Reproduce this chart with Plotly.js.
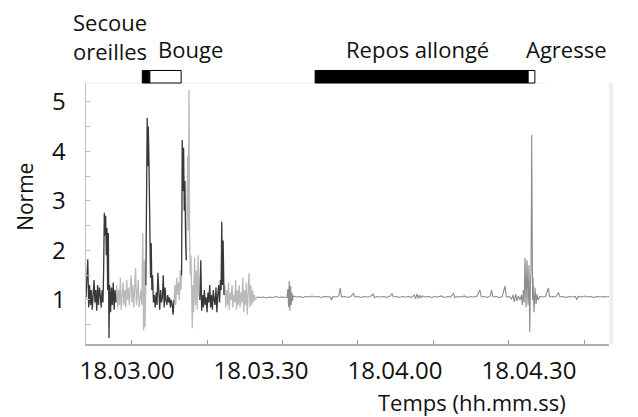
<!DOCTYPE html>
<html>
<head>
<meta charset="utf-8">
<script src="https://cdn.plot.ly/plotly-3.0.1.min.js"></script>
<style>html,body{margin:0;padding:0;background:#fff;}#chart{width:638px;height:417px;}</style>
</head>
<body>
<div id="chart"></div>
<script>
// Time in seconds since 18:00:00
const darkTime = [
  170.8,171.0,171.2,171.4,171.6,171.8,172.0,172.2,172.4,172.6,172.8,173.0,173.2,173.4,173.6,173.8,174.0,174.2,174.4,174.6,174.75,174.9,175.05,175.2,175.35,175.5,175.65,175.8,175.95,176.1,176.3,176.5,176.7,176.9,177.1,177.3,177.5,
  null,
  184.2,184.35,184.5,184.62,184.75,184.88,185.0,185.12,185.25,185.4,185.55,185.7,
  185.9,186.1,186.3,186.5,186.7,186.9,187.1,187.3,187.5,187.7,187.9,188.1,188.3,188.5,188.7,188.9,189.1,189.3,189.5,189.7,189.9,190.1,190.3,190.5,
  null,
  192.2,192.35,192.5,192.65,192.8,192.95,193.1,193.25,
  null,
  196.3,196.5,196.7,196.9,197.1,197.3,197.5,197.7,197.9,198.1,198.3,198.5,198.7,198.9,199.1,199.3,199.5,199.7,199.9,200.1,200.3,200.5,200.7,200.9,201.05,201.2,201.35,201.5,201.7
];
const darkNorme = [
  1.05,1.5,1.82,0.85,1.3,0.9,1.2,0.8,1.15,1.4,0.95,1.2,0.78,1.3,0.9,1.25,1.1,0.85,1.2,0.95,1.6,2.76,2.3,2.7,1.9,2.45,1.2,2.35,0.23,1.3,0.75,1.25,0.9,1.35,0.8,1.2,0.95,
  null,
  1.3,3.5,4.68,3.7,4.5,3.9,2.9,1.6,1.45,2.15,1.2,1.5,
  0.95,1.1,0.85,1.15,0.9,1.55,1.0,0.8,1.2,0.95,1.05,1.5,0.85,1.25,1.0,0.9,1.1,0.95,1.05,0.85,1.0,0.9,0.7,1.0,
  null,
  1.5,4.23,3.2,4.07,2.8,3.4,2.2,1.8,
  null,
  1.0,1.8,0.78,1.1,0.85,1.2,0.9,1.05,0.75,1.15,0.95,1.3,0.85,1.1,0.8,1.2,1.0,0.9,1.25,0.75,1.1,1.3,0.95,1.4,1.2,2.58,1.3,2.2,1.1
];

const lightTime = [
  177.5,177.7,177.9,178.1,178.3,178.5,178.7,178.9,179.1,179.3,179.5,179.7,179.9,180.1,180.3,180.5,180.7,180.9,181.1,181.3,181.5,181.7,181.9,182.1,182.3,182.5,182.7,182.9,183.1,183.3,183.5,183.7,183.85,184.0,184.2,
  null,
  190.5,190.7,190.9,191.1,191.3,191.5,191.7,191.9,192.05,192.2,
  null,
  193.25,193.4,193.55,193.7,193.85,194.0,194.15,194.3,194.45,194.6,194.75,194.9,195.1,195.3,195.5,195.7,195.9,196.1,196.3,
  null,
  201.7,201.9,202.1,202.3,202.5,202.7,202.9,203.1,203.3,203.5,203.7,203.9,204.1,204.3,204.5,204.7,204.9,205.1,205.3,205.5,205.7,205.9,206.1,206.3,206.5,206.7,206.9,207.1,207.3,207.5,207.7,207.9,208.1,208.3,208.5,208.7,208.9,209.1
];
const lightNorme = [
  0.95,1.3,0.85,1.2,0.9,1.45,0.8,1.1,1.35,0.9,1.2,0.85,1.4,1.0,1.25,0.9,1.15,1.5,0.95,1.3,0.85,1.2,1.65,0.9,1.1,1.4,0.85,1.0,1.2,0.9,2.35,0.39,1.8,0.45,1.3,
  null,
  1.0,1.3,0.9,1.45,1.1,1.35,1.0,1.6,1.2,1.5,
  null,
  1.8,2.6,3.9,2.4,5.24,2.2,1.5,1.9,0.9,0.43,1.3,0.75,1.85,0.9,1.6,0.8,1.9,1.1,1.0,
  null,
  1.1,1.3,0.85,1.2,0.9,1.35,0.8,1.15,1.0,1.3,0.85,1.1,0.95,1.4,0.8,1.2,0.9,1.3,0.85,1.15,0.95,1.45,0.75,1.2,0.9,1.35,0.7,1.25,1.55,0.85,1.3,0.9,1.2,0.95,1.1,1.0,1.05,1.06
];

const reposTime = [
  209.1,209.8,210.5,211.2,211.9,212.6,213.3,214.0,214.7,215.4,215.8,216.0,216.15,216.3,216.45,216.6,216.75,216.9,217.05,217.2,
  217.9,218.6,219.3,220.0,220.7,221.4,222.1,222.8,223.5,224.2,224.9,225.5,225.8,226.1,226.8,227.4,227.7,228.0,228.7,229.4,
  230.1,230.7,231.0,231.7,232.4,233.1,233.8,234.5,235.1,235.4,236.1,236.8,237.5,238.2,238.9,239.3,239.6,240.3,241.0,241.7,
  242.4,243.1,243.8,244.3,244.6,244.9,245.2,245.5,245.8,246.1,246.8,247.5,248.2,248.9,249.6,250.3,251.0,251.7,252.4,253.1,
  253.4,254.1,254.8,255.5,256.2,256.9,257.6,258.3,259.0,259.3,260.0,260.7,261.3,261.6,261.9,262.6,263.3,264.0,264.6,264.9,
  265.5,266.1,266.4,266.7,267.0,267.3,267.6,268.0,268.3,268.5,268.72,268.9,269.1,269.32,269.54,269.77,269.99,270.15,270.3,270.44,
  270.6,270.78,270.89,271.11,271.34,271.56,271.78,272.0,272.45,273.1,273.7,274.3,274.6,275.3,276.0,276.6,276.9,277.6,278.3,279.0,
  279.7,280.4,280.7,281.0,281.7,282.4,283.1,283.8,284.5,285.2,285.9,286.6,287.3,287.9
];
const reposNorme = [
  1.06,1.05,1.06,1.04,1.06,1.05,1.07,1.05,1.06,1.05,1.05,1.22,0.85,1.38,0.78,1.28,0.9,1.15,0.98,1.08,
  1.06,1.07,1.05,1.07,1.06,1.08,1.06,1.07,1.05,1.07,1.06,1.06,1.0,1.07,1.06,1.08,1.24,1.06,1.07,1.05,
  1.07,1.13,1.06,1.07,1.05,1.07,1.06,1.07,1.12,1.05,1.07,1.06,1.07,1.05,1.08,1.13,1.06,1.07,1.05,1.07,
  1.06,1.07,1.05,1.1,1.02,1.12,1.03,1.1,1.04,1.08,1.06,1.07,1.05,1.07,1.06,1.08,1.05,1.07,1.06,1.13,
  1.05,1.07,1.06,1.08,1.05,1.07,1.06,1.07,1.2,1.06,1.07,1.05,1.08,1.2,1.06,1.07,1.05,1.07,1.28,1.06,
  1.07,1.02,1.1,0.96,1.12,0.98,1.08,1.0,1.1,0.9,1.2,0.95,1.85,0.85,1.8,0.9,1.7,0.35,1.3,1.6,
  4.33,1.0,1.45,0.75,1.25,0.92,1.12,1.0,1.07,1.06,1.07,1.24,1.06,1.07,1.06,1.15,1.06,1.07,1.05,1.07,
  1.06,1.07,1.0,1.07,1.06,1.08,1.06,1.07,1.05,1.07,1.06,1.07,1.06,1.07
];

const behaviourLabels = ["Secoue oreilles", "Bouge", "Repos allongé", "Agresse"];
const behaviourStart = [183.4, 185.1, 222.1, 269.8];
const behaviourEnd = [185.1, 192.1, 269.8, 271.3];
const behaviourFilled = [true, false, true, false];

const xTickVals = [180, 210, 240, 270];
const xTickText = ["18.03.00", "18.03.30", "18.04.00", "18.04.30"];
const yTickVals = [1, 2, 3, 4, 5];

const FONT = "Open Sans, Liberation Sans, sans-serif";

const traces = [
  {x: lightTime, y: lightNorme, type: "scatter", mode: "lines", connectgaps: false,
   line: {color: "#bababa", width: 1.3}, hoverinfo: "skip"},
  {x: reposTime, y: reposNorme, type: "scatter", mode: "lines",
   line: {color: "#8c8c8c", width: 1.1}, hoverinfo: "skip"},
  {x: darkTime, y: darkNorme, type: "scatter", mode: "lines", connectgaps: false,
   line: {color: "#383838", width: 1.3}, hoverinfo: "skip"}
];

const shapes = behaviourLabels.map((lab, i) => ({
  type: "rect", xref: "x", yref: "paper",
  x0: behaviourStart[i], x1: behaviourEnd[i], y0: 1.0, y1: 1.048,
  fillcolor: behaviourFilled[i] ? "#000000" : "#ffffff",
  line: {color: "#000000", width: 1}
}));
// faint frame top / right
shapes.push({type: "line", xref: "paper", yref: "paper", x0: 0, x1: 0.88, y0: 1.0, y1: 1.0,
  line: {color: "#eeeeee", width: 1}, layer: "below"});
shapes.push({type: "line", xref: "paper", yref: "paper", x0: 1.004, x1: 1.004, y0: 0, y1: 1.0,
  line: {color: "#efefef", width: 4}, layer: "below"});

const annotations = [
  {text: "Secoue<br>oreilles", x: 0.046, y: 1.18},
  {text: "Bouge", x: 0.199, y: 1.13},
  {text: "Repos allongé", x: 0.633, y: 1.13},
  {text: "Agresse", x: 0.918, y: 1.13},
  {text: "Temps (hh.mm.ss)", x: 0.738, y: -0.222},
].map(a => Object.assign({xref: "paper", yref: "paper", showarrow: false,
  xanchor: "center", yanchor: "middle", font: {family: FONT, size: 22, color: "#111"}}, a));
annotations.push({text: "Norme", xref: "paper", yref: "paper", x: -0.117, y: 0.563,
  textangle: -90, showarrow: false, xanchor: "center", yanchor: "middle",
  font: {family: FONT, size: 21, color: "#111"}});

const layout = {
  width: 638, height: 417,
  margin: {l: 86, r: 29, t: 83, b: 73, pad: 0},
  paper_bgcolor: "#ffffff", plot_bgcolor: "#ffffff",
  showlegend: false,
  font: {family: FONT, size: 21, color: "#111"},
  xaxis: {
    range: [170.8, 287.9], showgrid: false, zeroline: false,
    tickmode: "array", tickvals: xTickVals, ticktext: xTickText,
    ticks: "", ticklabelstandoff: 5,
    showline: true, linecolor: "#b0b0b0", linewidth: 1.5,
    minor: {tick0: 181.05, dtick: 16.88, ticks: "inside", ticklen: 4, tickcolor: "#999", tickwidth: 1, showgrid: false},
    tickfont: {family: FONT, size: 24, color: "#111"}
  },
  yaxis: {
    range: [0.11, 5.38], showgrid: false, zeroline: false,
    tickmode: "array", tickvals: yTickVals,
    ticks: "inside", ticklen: 4, tickcolor: "#bbb", tickwidth: 1,
    ticklabelstandoff: 14,
    minor: {dtick: 0.5, tick0: 0.5, ticks: "inside", ticklen: 4, tickcolor: "#bbb", tickwidth: 1, showgrid: false},
    showline: true, linecolor: "#bdbdbd", linewidth: 1.5,
    tickfont: {family: FONT, size: 24, color: "#111"}
  },
  shapes: shapes,
  annotations: annotations
};

Plotly.newPlot("chart", traces, layout, {staticPlot: true, displayModeBar: false});
</script>
</body>
</html>
